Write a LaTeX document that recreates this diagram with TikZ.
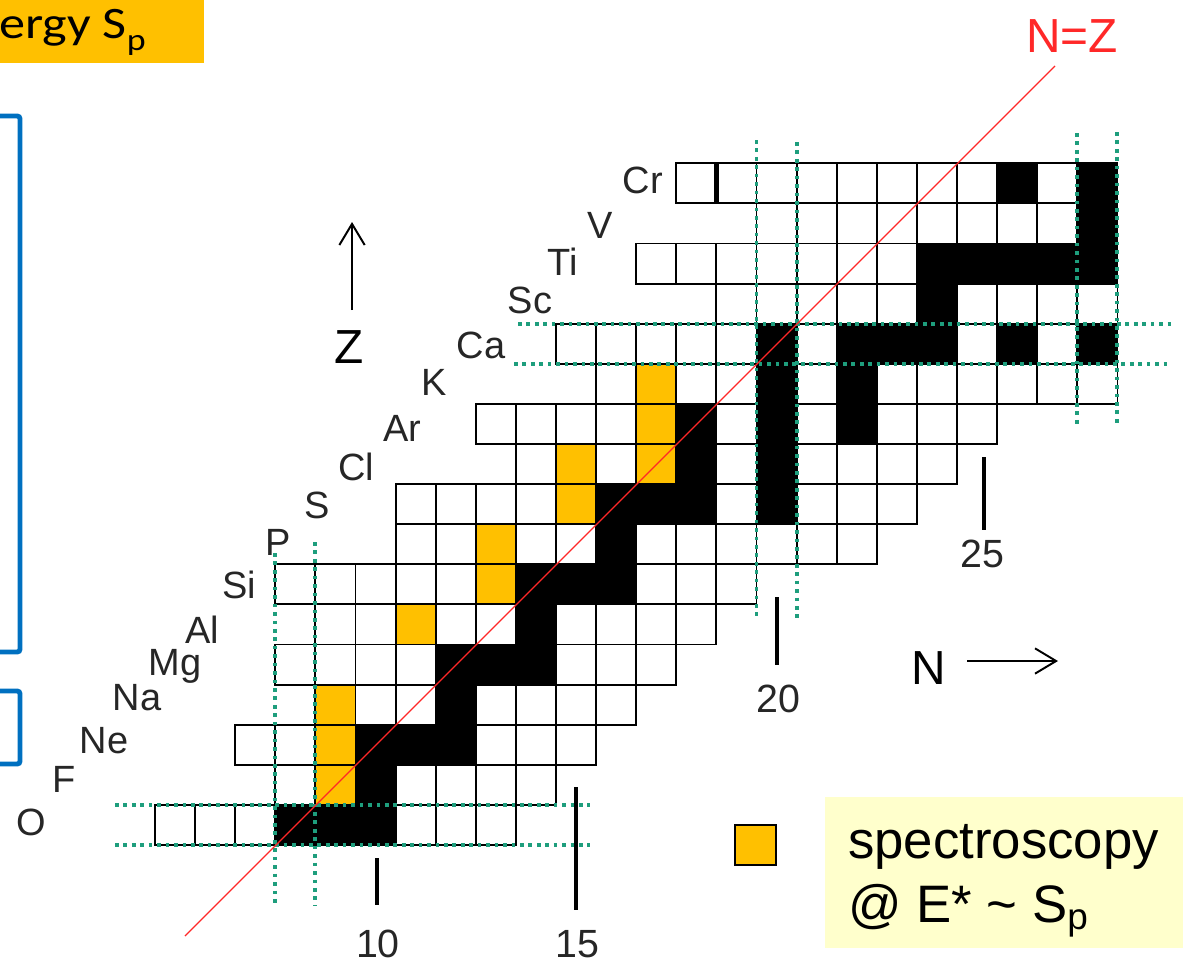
\documentclass[tikz,border=0pt]{standalone}
\usepackage{fontspec}
\setmainfont{Liberation Sans}
\newfontfamily\calib{Carlito}
\usetikzlibrary{arrows.meta}
\definecolor{gold}{RGB}{255,192,0}
\definecolor{teal2}{RGB}{30,158,125}
\definecolor{blueb}{RGB}{0,112,192}
\definecolor{legbg}{RGB}{255,255,204}
\definecolor{nzred}{RGB}{255,40,40}
\tikzset{
 cellw/.style={draw=black, line width=1.3pt, fill=white},
 cellk/.style={draw=black, line width=1.3pt, fill=black},
 celly/.style={draw=black, line width=1.3pt, fill=gold},
 magic/.style={draw=teal2, line width=2.8pt, dash pattern=on 2.6pt off 3.4pt},
 elab/.style={font=\fontsize{27}{30}\selectfont, text=black!85, inner sep=0pt, anchor=base},
 numlab/.style={font=\fontsize{28}{30}\selectfont, text=black!85, inner sep=0pt, anchor=base},
 tickm/.style={line width=2.2pt},
 axl/.style={font=\fontsize{34}{36}\selectfont, inner sep=0pt, anchor=base},
 axarrow/.style={line width=1.4pt, -{Straight Barb[length=15pt,width=18pt]}},
 blbox/.style={draw=blueb, line width=3.5pt, rounded corners=2pt},
 legtxt/.style={font=\fontsize{37.5}{40}\selectfont, inner sep=0pt, anchor=base west},
}
\begin{document}
\begin{tikzpicture}[x=0.025cm,y=-0.025cm]
\useasboundingbox (0,0) rectangle (1183,967);
% title fragment
\fill[gold] (0,0) rectangle (204,63);
\node[anchor=base west, inner sep=0pt, font=\calib\fontsize{32}{34}\selectfont, xscale=1.16] (ttl) at (-1,38) {ergy S\raisebox{-0.28em}{\fontsize{22}{24}\selectfont p}};
% blue boxes
\draw[blbox] (-30,116) rectangle (20,652);
\draw[blbox] (-30,691) rectangle (20,764);
% grid cells
\foreach \z/\a/\b in {8/5/13, 9/8/14, 10/7/15, 11/9/16, 12/8/17, 13/9/18, 14/8/19, 15/11/22, 16/11/23, 17/14/24, 18/13/25, 19/16/28, 20/15/28, 21/19/28, 22/17/28, 23/20/28, 24/18/28}{
  \foreach \n in {\a,...,\b}{
    \draw[cellw] ({-45.5+40.1*\n},{1125.7-40.1*\z}) rectangle ++(40.1,40.1);
  }
}
\foreach \n/\z in {8/8,9/8,10/8, 10/9, 10/10,11/10,12/10, 12/11, 12/12,13/12,14/12, 14/13, 14/14,15/14,16/14, 16/15, 16/16,17/16,18/16,20/16, 18/17,20/17, 18/18,20/18,22/18, 20/19,22/19, 20/20,22/20,23/20,24/20,26/20,28/20, 24/21, 24/22,25/22,26/22,27/22,28/22, 28/23, 26/24,28/24}{
  \draw[cellk] ({-45.5+40.1*\n},{1125.7-40.1*\z}) rectangle ++(40.1,40.1);
}
\foreach \n/\z in {9/9, 9/10, 9/11, 11/13, 13/14, 13/15, 15/16, 15/17, 17/17, 17/18, 17/19}{
  \draw[celly] ({-45.5+40.1*\n},{1125.7-40.1*\z}) rectangle ++(40.1,40.1);
}
\draw[line width=3pt] (716.4,163.3) -- (716.4,203.4);
% magic number lines
\draw[magic] (115,804.9) -- (590,804.9);
\draw[magic] (115,845) -- (590,845);
\draw[magic] (275.3,553) -- (275.3,905);
\draw[magic] (315.4,542) -- (315.4,905);
\draw[magic] (518,323.7) -- (1175,323.7);
\draw[magic] (514,363.8) -- (1170,363.8);
\draw[magic] (756.5,140) -- (756.5,620);
\draw[magic] (796.6,142) -- (796.6,622);
\draw[magic] (1077.3,133) -- (1077.3,427);
\draw[magic] (1117.4,132) -- (1117.4,425);
% N=Z line
\coordinate (nz0) at (185,936);
\coordinate (nz1) at (1055,66);
\draw[nzred, line width=0.9pt] (nz0) -- (nz1);
\node[axl, text=nzred] (nzl) at (1072,52) {N=Z};
% element labels
\node[elab] (lO) at (31,835) {O};
\node[elab] (lF) at (64,792) {F};
\node[elab] (lNe) at (104,753) {Ne};
\node[elab] (lNa) at (137,710) {Na};
\node[elab] (lMg) at (175,675) {Mg};
\node[elab] (lAl) at (202,643) {Al};
\node[elab] (lSi) at (239,598) {Si};
\node[elab] (lP) at (278,555) {P};
\node[elab] (lS) at (317,518) {S};
\node[elab] (lCl) at (356,480) {Cl};
\node[elab] (lAr) at (402,441) {Ar};
\node[elab] (lK) at (434,395) {K};
\node[elab] (lCa) at (481,358) {Ca};
\node[elab] (lSc) at (530,313) {Sc};
\node[elab] (lTi) at (563,275) {Ti};
\node[elab] (lV) at (600,238) {V};
\node[elab] (lCr) at (643,193) {Cr};
% axes
\node[axl] (zl) at (349,363) {Z};
\coordinate (za0) at (352,310);
\coordinate (za1) at (352,222);
\draw[axarrow] (za0) -- (za1);
\node[axl] (nl) at (929,684) {N};
\coordinate (na0) at (967,661);
\coordinate (na1) at (1058,661);
\draw[axarrow] (na0) -- (na1);
% ticks
\coordinate (t10a) at (377,858); \coordinate (t10b) at (377,905);
\coordinate (t15a) at (576,787); \coordinate (t15b) at (576,910);
\coordinate (t20a) at (777,597); \coordinate (t20b) at (777,665);
\coordinate (t25a) at (984,457); \coordinate (t25b) at (984,530);
\draw[tickm] (t10a) -- (t10b);
\draw[tickm] (t15a) -- (t15b);
\draw[tickm] (t20a) -- (t20b);
\draw[tickm] (t25a) -- (t25b);
\node[numlab] (n10) at (378,957) {10};
\node[numlab] (n15) at (577,957) {15};
\node[numlab] (n20) at (778,712) {20};
\node[numlab] (n25) at (982,567) {25};
% legend
\fill[legbg] (825,797) rectangle (1183,948);
\draw[celly, line width=1.2pt] (735,825) rectangle (776,865);
\node[legtxt] (lg1) at (848,858) {spectroscopy};
\node[legtxt] (lg2) at (848,922) {@ E* \textasciitilde{} S\textsubscript{p}};
\end{tikzpicture}
\end{document}
